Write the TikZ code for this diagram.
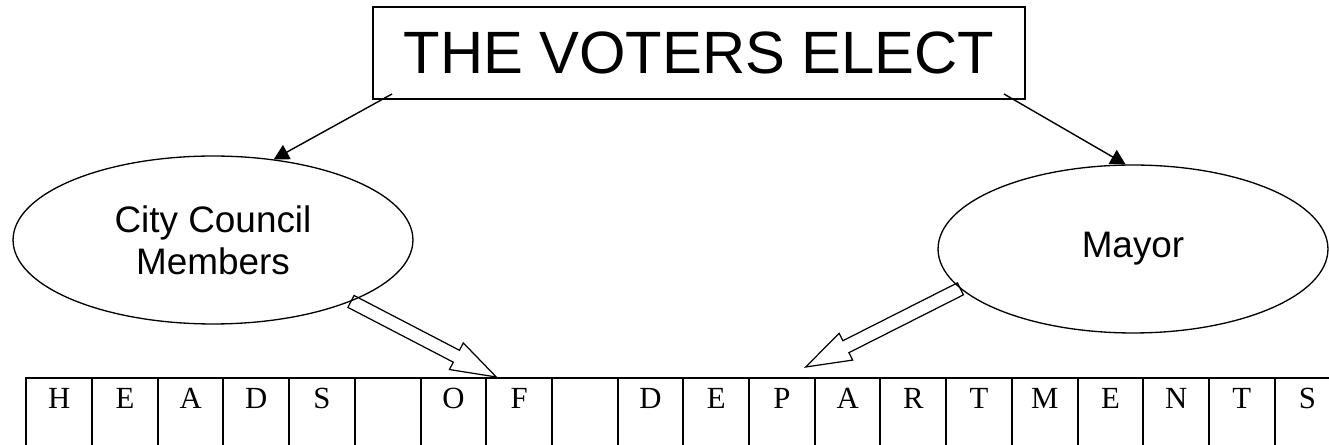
\documentclass[tikz,border=0pt]{standalone}
\usepackage{fontspec}
\setmainfont{Liberation Serif}
\newfontfamily\arialfont{Liberation Sans}
\usetikzlibrary{arrows.meta, shapes.geometric, calc}

% Outlined block arrow from #1 (tail) to #2 (tip)
\newcommand{\hollowarrow}[2]{%
  \coordinate (hb) at ($(#2)!0.9cm!(#1)$);
  \draw[blockline] ($(#1)!0.134cm!90:(#2)$) -- ($(hb)!0.134cm!90:(#2)$)
    -- ($(hb)!0.3cm!90:(#2)$) -- (#2) -- ($(hb)!0.3cm!-90:(#2)$)
    -- ($(hb)!0.134cm!-90:(#2)$) -- ($(#1)!0.134cm!-90:(#2)$) -- cycle;
}

\begin{document}
\begin{tikzpicture}[
    x=0.02cm, y=-0.02cm,
    >={Triangle[length=0.3cm, width=0.32cm]}, % Default arrow tip
    titlebox/.style={draw, line width=1.1pt, minimum width=13.04cm, minimum height=1.84cm,
        inner sep=0pt, font=\arialfont\fontsize{34}{38}\selectfont},
    office/.style={draw, ellipse, line width=0.75pt, align=center, inner sep=0pt,
        minimum height=3.36cm, font=\arialfont\fontsize{21}{24}\selectfont},
    cellbox/.style={draw, line width=1.1pt, anchor=north west, inner sep=0pt,
        minimum width=1.314cm, text height=0.62cm, text depth=1.2cm,
        font=\fontsize{17.5}{20}\selectfont},
    blockline/.style={line width=0.7pt, line join=miter}
]

% Page frame
\clip (0,0) rectangle (1329,445);

% Title box
\node[titlebox] (title) at (699,53) {THE VOTERS ELECT};

% Elected offices
\node[office, minimum width=8cm] (council) at (213,240) {City Council\\Members};
\node[office, minimum width=7.8cm] (mayor) at (1133,249) {Mayor};

% Row of letter cells
\foreach \letter [count=\i] in {H,E,A,D,S,{},O,F,{},D,E,P,A,R,T,M,E,N,T,S}
    \node[cellbox] (c\i) at ({25.4+65.7*(\i-1)}, 377) {\letter};

% Voters elect
\coordinate (tl) at ($(title.south west)+(20,-6)$);
\coordinate (tr) at ($(title.south east)+(-22,-6)$);
\draw[->, line width=0.8pt] (tl) -- (council.53);
\draw[->, line width=0.8pt] (tr) -- (mayor.95);

% Appointment arrows
\coordinate (ctip) at ($(c8.north west)+(11,0)$);
\coordinate (mtip) at ($(c12.north east)+(-10,-10)$);
\hollowarrow{council.-24}{ctip}
\hollowarrow{mayor.193}{mtip}

\end{tikzpicture}
\end{document}
